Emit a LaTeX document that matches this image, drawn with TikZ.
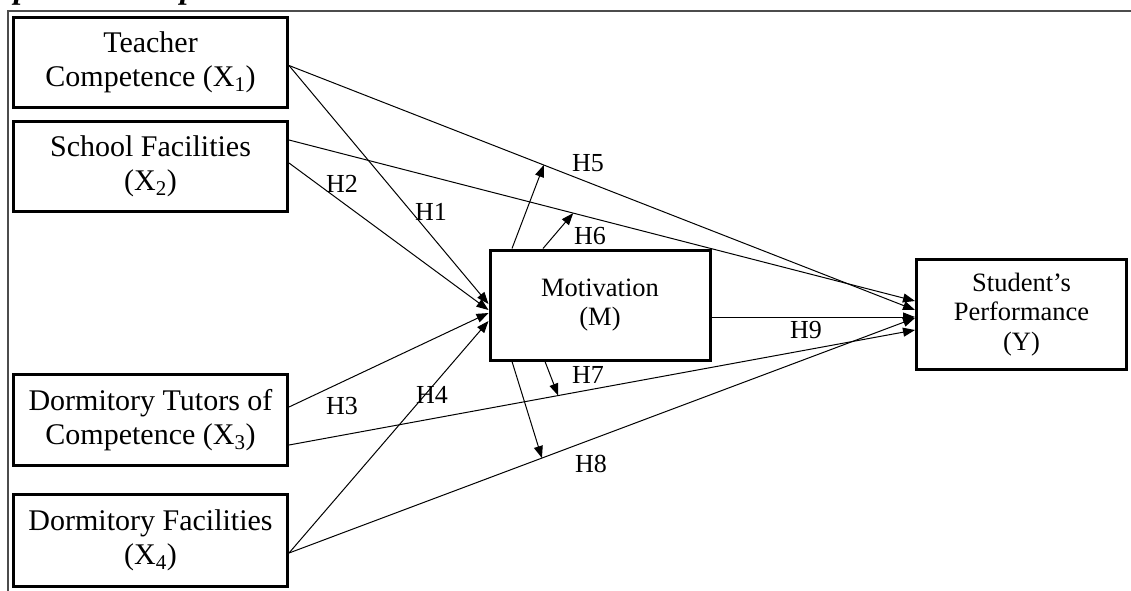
\documentclass[tikz,border=0pt]{standalone}
\usepackage{fontspec}
\setmainfont{Liberation Serif}
\usetikzlibrary{arrows.meta}
\begin{document}
\begin{tikzpicture}[x=1pt,y=-1pt,
  lbox/.style={draw=black,line width=3pt,minimum width=274pt,inner sep=0pt,align=center,
    font=\fontsize{30}{33.5}\selectfont},
  rbox/.style={draw=black,line width=3pt,inner sep=0pt,align=center,
    font=\fontsize{26.5}{29.5}\selectfont},
  conn/.style={line width=1pt,-{Triangle[length=12pt,width=9pt]}},
  hlab/.style={font=\fontsize{26}{28}\selectfont,inner sep=0pt},
  frameline/.style={line width=1.5pt,draw=black!70}
]
\useasboundingbox (0,0) rectangle (1131,590);
% caption (cut off at the top)
\node[anchor=base west,inner sep=0pt,font=\bfseries\itshape\fontsize{32}{36}\selectfont] (cap) at (-34,-2) {Proposed Conceptual Model};
% frame
\coordinate (fbl) at (8,592);
\coordinate (ftl) at (8,11);
\coordinate (ftr) at (1133,11);
\draw[frameline] (fbl) -- (ftl) -- (ftr);
% boxes
\node[lbox,minimum height=90pt] (x1) at (150.5,62.5) {Teacher\\Competence (X\textsubscript{1})};
\node[lbox,minimum height=90pt] (x2) at (150.5,166.5) {School Facilities\\(X\textsubscript{2})};
\node[lbox,minimum height=91pt] (x3) at (150.5,420) {Dormitory Tutors of\\Competence (X\textsubscript{3})};
\node[lbox,minimum height=92pt] (x4) at (150.5,540.5) {Dormitory Facilities\\(X\textsubscript{4})};
\node[rbox,minimum width=220pt,minimum height=110pt] (m) at (600,305) {Motivation\\(M)};
\node[rbox,minimum width=210pt,minimum height=110pt] (y) at (1021.5,314.5) {Student’s\\Performance\\(Y)};
% direct paths to Y
\draw[conn] ([yshift=-3pt]x1.east) -- coordinate[pos=0.407] (t5) ([yshift=4.5pt]y.west);
\draw[conn] ([yshift=26.5pt]x2.east) -- coordinate[pos=0.454] (t6) ([yshift=13.5pt]y.west);
\draw[conn] ([yshift=-25pt]x3.east) -- coordinate[pos=0.43] (t7) ([yshift=-15.5pt]y.west);
\draw[conn] ([yshift=-12.5pt]x4.east) -- coordinate[pos=0.404] (t8) ([yshift=-3.5pt]y.west);
% paths to M
\draw[conn] ([yshift=-3pt]x1.east) -- ([yshift=1pt]m.west);
\draw[conn] ([yshift=3.5pt]x2.east) -- ([yshift=-5pt]m.west);
\draw[conn] ([yshift=13pt]x3.east) -- ([yshift=-8pt]m.west);
\draw[conn] ([yshift=-12.5pt]x4.east) -- ([yshift=-16pt]m.west);
% M to Y
\draw[conn] ([yshift=-12pt]m.east) -- ([yshift=-2.5pt]y.west);
% moderation arrows
\draw[conn] ([xshift=-88pt]m.north) -- (t5);
\draw[conn] ([xshift=-57pt]m.north) -- (t6);
\draw[conn] ([xshift=-55pt]m.south) -- (t7);
\draw[conn] ([xshift=-88pt]m.south) -- (t8);
% labels
\node[hlab] (h1) at (431,212) {H1};
\node[hlab] (h2) at (342,184) {H2};
\node[hlab] (h3) at (342,406) {H3};
\node[hlab] (h4) at (432,395) {H4};
\node[hlab] (h5) at (588,163) {H5};
\node[hlab] (h6) at (590,236) {H6};
\node[hlab] (h7) at (588,375) {H7};
\node[hlab] (h8) at (591,464) {H8};
\node[hlab] (h9) at (806,330) {H9};
\end{tikzpicture}
\end{document}
